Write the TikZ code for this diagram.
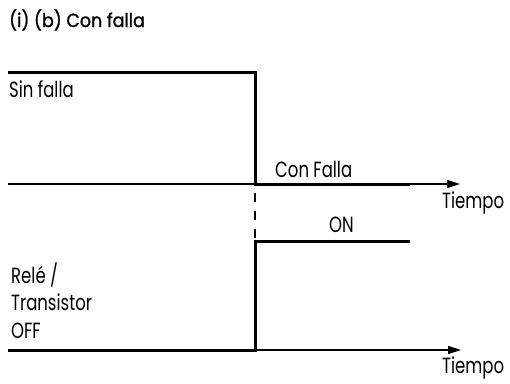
\documentclass[tikz,border=0pt]{standalone}
\usepackage{fontspec}
\setmainfont{Poppins}[FakeStretch=0.75]
\newfontfamily\titlefont{Poppins}[FakeBold=1.2, FakeStretch=0.92]
\usetikzlibrary{arrows.meta}
\tikzset{
  signal/.style={line width=3pt, line join=miter},
  timeaxis/.style={line width=1.2pt, -{Triangle[length=13pt,width=8pt]}},
  fault/.style={line width=2.6pt, dash pattern=on 9pt off 9pt},
  lbl/.style={anchor=base west, inner sep=0pt, font=\fontsize{22}{27.5}\selectfont, align=left}
}
\begin{document}
\begin{tikzpicture}[x=1pt,y=-1pt]
  \useasboundingbox (0,0) rectangle (510,383);
  \node[lbl, font=\titlefont\fontsize{19}{20}\selectfont] (title) at (9,27) {(i) (b) Con falla};

  % upper trace: fault signal
  \coordinate (f0) at (8,72);
  \coordinate (f1) at (255,72);
  \coordinate (f2) at (255,184);
  \coordinate (f3) at (410,184);
  \coordinate (ax0) at (8,184);
  \coordinate (ax1) at (460,184);
  \draw[timeaxis] (ax0) -- (ax1);
  \draw[signal] (f0) -- (f1) -- (f2) -- (f3);

  % lower trace: relay / transistor
  \coordinate (r0) at (8,350);
  \coordinate (r1) at (255,350);
  \coordinate (r2) at (255,241);
  \coordinate (r3) at (410,241);
  \coordinate (bx0) at (8,350);
  \coordinate (bx1) at (461,350);
  \draw[timeaxis] (bx0) -- (bx1);
  \draw[signal] (r0) -- (r1) -- (r2) -- (r3);

  % link between both traces
  \coordinate (d0) at (255,193);
  \coordinate (d1) at (255,238);
  \draw[fault] (d0) -- (d1);

  \node[lbl] (nofault) at (9,97) {Sin falla};
  \node[lbl] (withfault) at (275,177) {Con Falla};
  \node[lbl] (time1) at (442,208) {Tiempo};
  \node[lbl] (on) at (329,232) {ON};
  \node[lbl] (off) at (11,338) {Relé /\\Transistor\\OFF};
  \node[lbl] (time2) at (442,373) {Tiempo};
\end{tikzpicture}
\end{document}
